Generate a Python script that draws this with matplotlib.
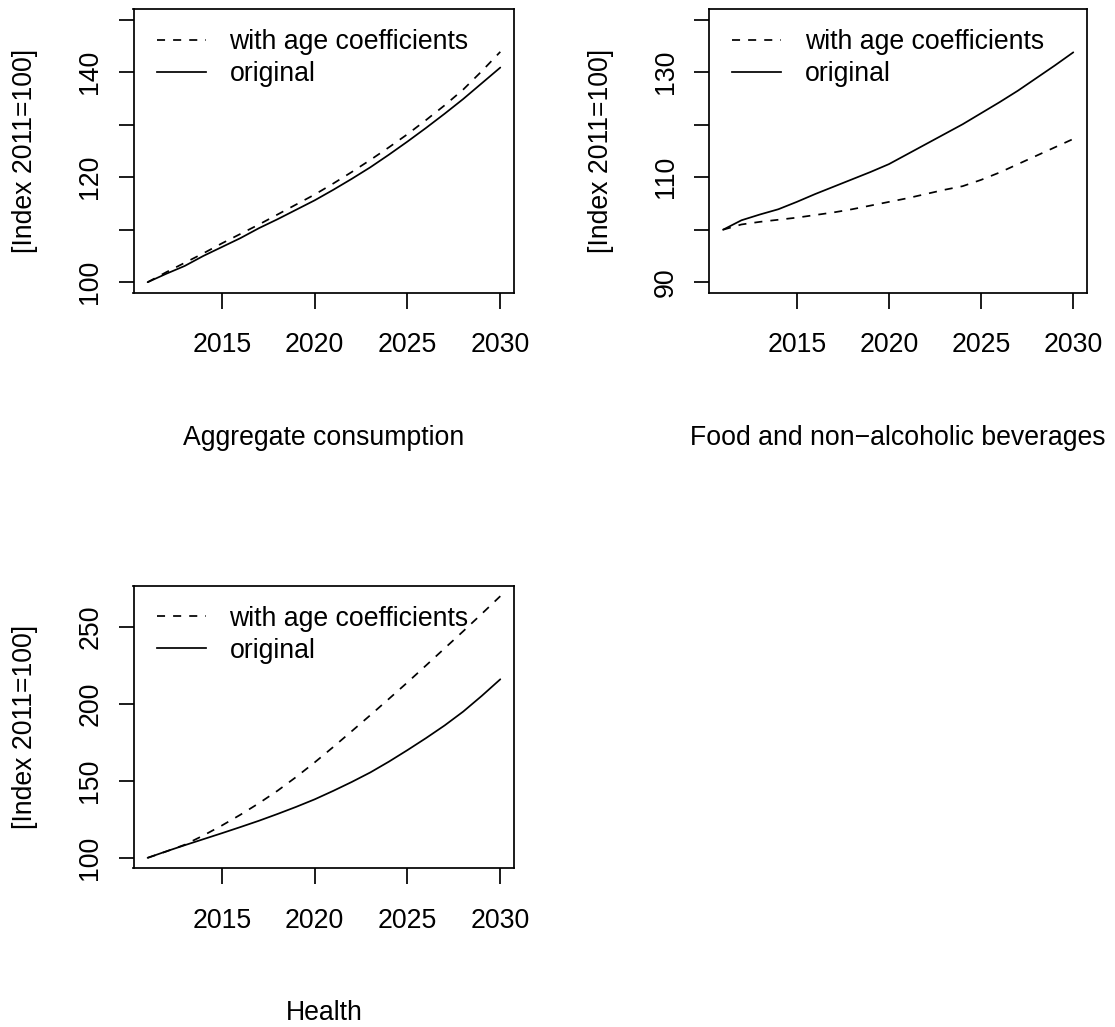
import matplotlib
matplotlib.use("Agg")
import matplotlib.pyplot as plt
from matplotlib.lines import Line2D

plt.rcParams['font.family'] = ['Liberation Sans', 'DejaVu Sans']
plt.rcParams['lines.scale_dashes'] = False

DPI = 100
W, H = 1115, 1027
FS = 19.2  # pt, ~26.7 px

years = list(range(2011, 2031))

# Aggregate consumption
agg_age = [100, 101.9, 103.7, 105.5, 107.4, 109.2, 111.0, 112.9, 114.8, 116.7,
           118.8, 121.0, 123.3, 125.7, 128.2, 130.9, 133.7, 136.7, 140.2, 143.9]
agg_orig = [100, 101.6, 103.1, 105.0, 106.7, 108.4, 110.3, 112.0, 113.8, 115.6,
            117.6, 119.7, 121.9, 124.3, 126.8, 129.4, 132.1, 134.9, 137.9, 140.9]

# Food and non-alcoholic beverages
food_age = [100, 101.0, 101.5, 101.9, 102.3, 102.8, 103.3, 103.9, 104.6, 105.3,
            106.0, 106.8, 107.6, 108.3, 109.5, 110.9, 112.5, 114.1, 115.7, 117.3]
food_orig = [100, 101.8, 102.9, 103.9, 105.3, 106.8, 108.2, 109.6, 111.0, 112.5,
             114.4, 116.3, 118.2, 120.1, 122.2, 124.3, 126.5, 128.9, 131.3, 133.8]

# Health
health_age = [100, 104.1, 108.5, 114.5, 121.0, 128.0, 135.5, 143.6, 152.5, 162.0,
              172.0, 182.3, 192.7, 203.3, 214.0, 225.0, 236.1, 247.2, 258.5, 270.0]
health_orig = [100, 104.2, 108.2, 112.1, 116.0, 120.0, 124.1, 128.5, 133.1, 138.0,
               143.5, 149.3, 155.5, 162.5, 170.0, 177.8, 186.0, 195.0, 205.2, 216.0]

titles = ["Aggregate consumption", "Food and non\u2212alcoholic beverages", "Health"]
ylabel = "[Index 2011=100]"
legend_labels = ["with age coefficients", "original"]

xticks = [2015, 2020, 2025, 2030]
yticks = [[100, 110, 120, 130, 140, 150],
          [90, 100, 110, 120, 130, 140],
          [100, 150, 200, 250]]
yticklabels = [["100", "", "120", "", "140", ""],
               ["90", "", "110", "", "130", ""],
               ["100", "150", "200", "250"]]
ylims = [(100, 150), (90, 140), (100, 270)]

series = [(agg_age, agg_orig), (food_age, food_orig), (health_age, health_orig)]

# axes boxes in pixels: left, top, right, bottom
boxes = [(133.5, 9.3, 514.4, 292.7),
         (709.0, 9.3, 1087.3, 292.7),
         (133.5, 585.7, 514.4, 868.3)]

LW = 1.25
DASH = (5.8, 5.8)
PX = 72.0 / DPI  # points per pixel

fig = plt.figure(figsize=(W / DPI, H / DPI), dpi=DPI)


def r_range(lo, hi):
    pad = (hi - lo) * 0.04
    return lo - pad, hi + pad


for i, (l, t, r, b) in enumerate(boxes):
    ax = fig.add_axes([l / W, 1 - b / H, (r - l) / W, (b - t) / H])
    age, orig = series[i]
    ax.plot(years, age, color='black', lw=LW, linestyle=(0, DASH),
            dash_capstyle='butt')
    ax.plot(years, orig, color='black', lw=LW, solid_capstyle='round')
    ax.set_xlim(*r_range(min(years), max(years)))
    ax.set_ylim(*r_range(*ylims[i]))
    ax.set_xticks(xticks)
    ax.set_xticklabels([str(x) for x in xticks])
    ax.set_yticks(yticks[i])
    ax.set_yticklabels(yticklabels[i])
    for sp in ax.spines.values():
        sp.set_linewidth(LW)
    ax.tick_params(axis='both', direction='out', length=15.5 * PX, width=LW,
                   labelsize=FS, color='black')
    ax.tick_params(axis='x', pad=24 * PX)
    ax.tick_params(axis='y', pad=14.8 * PX)
    for lab in ax.get_yticklabels():
        lab.set_rotation(90)
        lab.set_va('center')

    ax.annotate(ylabel, xy=(0, 0.5), xycoords='axes fraction',
                xytext=(-108.5 * PX, 0), textcoords='offset points',
                rotation=90, ha='center', va='center', fontsize=FS)
    ax.annotate(titles[i], xy=(0.5, 0), xycoords='axes fraction',
                xytext=(0, -145 * PX), textcoords='offset points',
                ha='center', va='center', fontsize=FS)

    handles = [Line2D([], [], color='black', lw=LW, linestyle=(0, DASH),
                      dash_capstyle='butt'),
               Line2D([], [], color='black', lw=LW)]
    ax.legend(handles, legend_labels, loc='upper left', frameon=False,
              bbox_to_anchor=(0, 1 + 3.3 / (b - t)), borderaxespad=0,
              borderpad=0.876, handlelength=1.824, handletextpad=0.9,
              labelspacing=0.22, fontsize=FS)

fig.savefig("out.png", dpi=DPI)
